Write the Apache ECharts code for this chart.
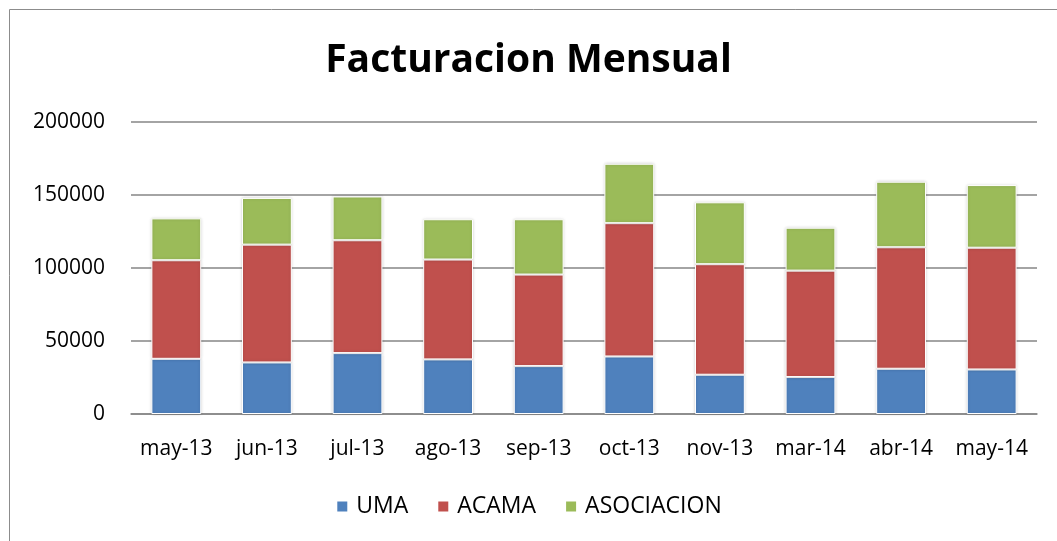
<!DOCTYPE html>
<html>
<head>
<meta charset="utf-8">
<script src="https://cdn.jsdelivr.net/npm/echarts@6/dist/echarts.min.js"></script>
<style>
  html, body { margin: 0; padding: 0; background: #fff; }
  #main { width: 1057px; height: 541px; }
</style>
</head>
<body>
<div id="main"></div>
<script>
// datos
var meses = ['may-13', 'jun-13', 'jul-13', 'ago-13', 'sep-13', 'oct-13', 'nov-13', 'mar-14', 'abr-14', 'may-14'];
var uma = [37800, 35300, 41700, 37400, 32800, 39400, 26900, 25300, 31000, 30500];
var acama = [67500, 80700, 77300, 68400, 62700, 91300, 75700, 72900, 83200, 83400];
var asociacion = [28700, 32000, 30000, 27600, 37900, 40700, 42400, 29400, 44900, 42900];
var ticksY = [0, 50000, 100000, 150000, 200000];

var myChart = echarts.init(document.getElementById('main'));
var fuente = 'Open Sans';

function serie(nombre, datos, color) {
  return {
    name: nombre,
    type: 'bar',
    stack: 'total',
    data: datos,
    barWidth: '55%',
    itemStyle: {
      color: color,
      borderColor: '#ffffff',
      borderWidth: 1,
      shadowColor: 'rgba(0,0,0,0.18)',
      shadowBlur: 3
    }
  };
}

var option = {
  backgroundColor: '#ffffff',
  animation: false,
  title: {
    text: 'Facturacion Mensual',
    left: 'center',
    top: 36,
    textStyle: { fontFamily: fuente, fontSize: 39, fontWeight: 'bold', color: '#000' }
  },
  graphic: [{
    type: 'rect',
    shape: { x: 9.5, y: 9.5, width: 1100, height: 600 },
    style: { fill: 'none', stroke: '#8c8c8c', lineWidth: 1 },
    silent: true
  }],
  legend: {
    data: ['UMA', 'ACAMA', 'ASOCIACION'],
    bottom: 18,
    left: 'center',
    itemWidth: 12,
    itemHeight: 12,
    itemGap: 28,
    icon: 'rect',
    textStyle: { fontFamily: fuente, fontSize: 23, color: '#000', padding: [0, 0, 0, 3] }
  },
  grid: { left: 131, right: 20, top: 122, bottom: 127 },
  xAxis: {
    type: 'category',
    data: meses,
    axisLine: { lineStyle: { color: '#868686', width: 1.5 } },
    axisTick: { show: false },
    axisLabel: { fontFamily: fuente, fontSize: 21, color: '#000', margin: 25, interval: 0 }
  },
  yAxis: {
    type: 'value',
    min: ticksY[0],
    max: ticksY[ticksY.length - 1],
    interval: 50000,
    axisLine: { show: false },
    axisTick: { show: false },
    axisLabel: {
      fontFamily: fuente, fontSize: 21, color: '#000', margin: 26,
      formatter: function (v) { return String(v); }
    },
    splitLine: { lineStyle: { color: '#868686', width: 1.5 } }
  },
  series: [
    serie('UMA', uma, '#4f81bd'),
    serie('ACAMA', acama, '#c0504d'),
    serie('ASOCIACION', asociacion, '#9bbb59')
  ]
};
myChart.setOption(option);
</script>
</body>
</html>
